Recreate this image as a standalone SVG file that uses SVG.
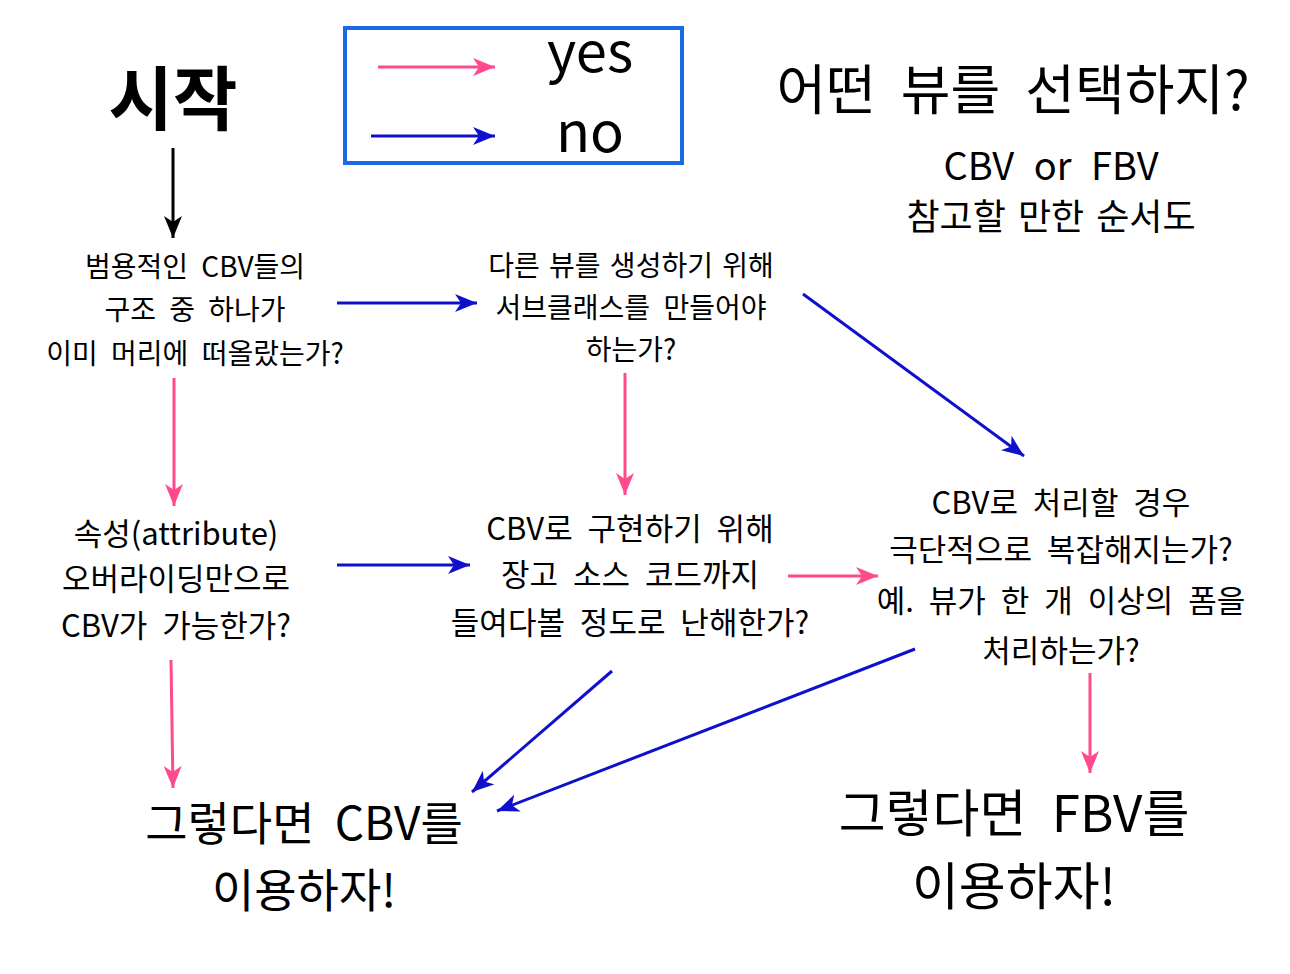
<svg xmlns="http://www.w3.org/2000/svg" width="1290" height="974" viewBox="0 0 1290 974">
<style>
text{font-family:"Noto Sans CJK KR","Noto Sans",sans-serif;fill:#000;text-anchor:middle}
.q{font-size:28px;word-spacing:7px}
.q2{font-size:31px;word-spacing:8px}
.yes{stroke:#ff4a8d;stroke-width:3;fill:none}
.no{stroke:#1010cc;stroke-width:3;fill:none}
.blk{stroke:#000;stroke-width:3;fill:none}
</style>
<defs>
<marker id="hp" markerUnits="userSpaceOnUse" markerWidth="24" markerHeight="18" refX="22" refY="9" orient="auto"><path d="M0,0 L22,9 L0,18 L6,9 z" fill="#ff4a8d"/></marker>
<marker id="hb" markerUnits="userSpaceOnUse" markerWidth="24" markerHeight="18" refX="22" refY="9" orient="auto"><path d="M0,0 L22,9 L0,18 L6,9 z" fill="#1010cc"/></marker>
<marker id="hk" markerUnits="userSpaceOnUse" markerWidth="24" markerHeight="18" refX="22" refY="9" orient="auto"><path d="M0,0 L22,9 L0,18 L6,9 z" fill="#000"/></marker>
</defs>
<rect width="1290" height="974" fill="#fff"/>

<g id="legend">
<rect x="345" y="28" width="337" height="135" fill="none" stroke="#1a6ae4" stroke-width="4"/>
<line class="yes" x1="378" y1="67" x2="495" y2="67" marker-end="url(#hp)"/>
<line class="no" x1="371" y1="136" x2="495" y2="136" marker-end="url(#hb)"/>
<text x="590" y="72" style="font-size:56px">yes</text>
<text x="590" y="152" style="font-size:56px">no</text>
</g>

<g id="start"><text x="173" y="125" style="font-size:70px;font-weight:bold">시작</text></g>

<g id="title">
<text x="1013" y="110" style="font-size:54px;word-spacing:13px">어떤 뷰를 선택하지?</text>
<text x="1051" y="180" style="font-size:38px;word-spacing:11px">CBV or FBV</text>
<text x="1051" y="230" style="font-size:36px;word-spacing:4px">참고할 만한 순서도</text>
</g>

<g id="q1">
<text class="q" x="195" y="277">범용적인 CBV들의</text>
<text class="q" x="195" y="320">구조 중 하나가</text>
<text class="q" x="195" y="364">이미 머리에 떠올랐는가?</text>
</g>

<g id="q2">
<text class="q" x="631" y="276" style="word-spacing:3px">다른 뷰를 생성하기 위해</text>
<text class="q" x="631" y="318">서브클래스를 만들어야</text>
<text class="q" x="631" y="360">하는가?</text>
</g>

<g id="q3">
<text class="q2" x="176" y="545">속성(attribute)</text>
<text class="q2" x="176" y="590">오버라이딩만으로</text>
<text class="q2" x="176" y="637">CBV가 가능한가?</text>
</g>

<g id="q4">
<text class="q2" x="630" y="540">CBV로 구현하기 위해</text>
<text class="q2" x="630" y="586">장고 소스 코드까지</text>
<text class="q2" x="630" y="634">들여다볼 정도로 난해한가?</text>
</g>

<g id="q5">
<text class="q2" x="1061" y="514">CBV로 처리할 경우</text>
<text class="q2" x="1061" y="561">극단적으로 복잡해지는가?</text>
<text class="q2" x="1061" y="612">예. 뷰가 한 개 이상의 폼을</text>
<text class="q2" x="1061" y="662">처리하는가?</text>
</g>

<g id="cbv">
<text x="304" y="840" style="font-size:46px;word-spacing:10px">그렇다면 CBV를</text>
<text x="304" y="907" style="font-size:46px">이용하자!</text>
</g>

<g id="fbv">
<text x="1014" y="832" style="font-size:51px;word-spacing:14px">그렇다면 FBV를</text>
<text x="1014" y="905" style="font-size:51px">이용하자!</text>
</g>

<g id="connectors">
<line class="blk" x1="173" y1="148" x2="173" y2="238" marker-end="url(#hk)"/>
<line class="no" x1="337" y1="303" x2="477" y2="303" marker-end="url(#hb)"/>
<line class="no" x1="803" y1="294" x2="1024" y2="456" marker-end="url(#hb)"/>
<line class="yes" x1="174" y1="378" x2="174" y2="506" marker-end="url(#hp)"/>
<line class="yes" x1="625" y1="373" x2="625" y2="495" marker-end="url(#hp)"/>
<line class="no" x1="337" y1="565" x2="470" y2="565" marker-end="url(#hb)"/>
<line class="yes" x1="788" y1="576" x2="878" y2="576" marker-end="url(#hp)"/>
<line class="no" x1="612" y1="671" x2="472" y2="792" marker-end="url(#hb)"/>
<line class="no" x1="915" y1="649" x2="497" y2="811" marker-end="url(#hb)"/>
<line class="yes" x1="171" y1="660" x2="173" y2="788" marker-end="url(#hp)"/>
<line class="yes" x1="1090" y1="673" x2="1090" y2="773" marker-end="url(#hp)"/>
</g>
</svg>
